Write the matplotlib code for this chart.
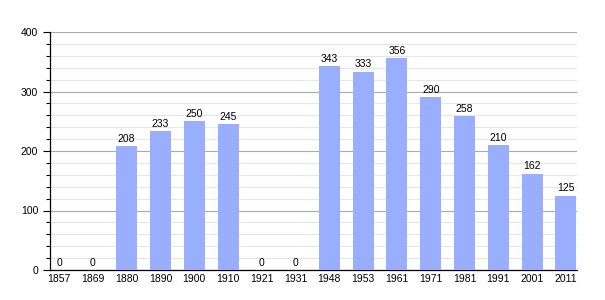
import matplotlib
matplotlib.use("Agg")
import matplotlib.pyplot as plt
from matplotlib.ticker import MultipleLocator

years = ["1857", "1869", "1880", "1890", "1900", "1910", "1921", "1931",
         "1948", "1953", "1961", "1971", "1981", "1991", "2001", "2011"]
values = [0, 0, 208, 233, 250, 245, 0, 0, 343, 333, 356, 290, 258, 210, 162, 125]

plt.rcParams['font.family'] = ['Liberation Sans', 'DejaVu Sans']

fig = plt.figure(figsize=(6.05, 3.0), dpi=100)
ax = fig.add_axes([50/605, 30/300, 527/605, 238/300])

x = list(range(len(years)))
ax.bar(x, values, width=0.62, color="#9aaeff", zorder=3)
for xi, v in zip(x, values):
    ax.text(xi, v + 4, str(v), ha="center", va="bottom", fontsize=7.5, zorder=4)

ax.set_xlim(-0.27, len(years) - 1 + 0.33)
ax.set_ylim(0, 400)
ax.set_xticks(x)
ax.set_xticklabels(years, fontsize=7.5)
ax.yaxis.set_major_locator(MultipleLocator(100))
ax.yaxis.set_minor_locator(MultipleLocator(20))
ax.tick_params(axis="y", which="major", length=5, labelsize=7.5, width=0.8)
ax.tick_params(axis="y", which="minor", length=3, width=0.8)
ax.tick_params(axis="x", length=0, labelsize=7.5, pad=3)
ax.grid(axis="y", which="major", color="#aaaaaa", linewidth=0.8, zorder=1)
ax.grid(axis="y", which="minor", color="#e6e6e6", linewidth=0.8, zorder=0)
for s in ["top", "right"]:
    ax.spines[s].set_visible(False)
ax.spines["left"].set_linewidth(0.9)
ax.spines["bottom"].set_linewidth(0.9)

fig.savefig("out.png", dpi=100)
